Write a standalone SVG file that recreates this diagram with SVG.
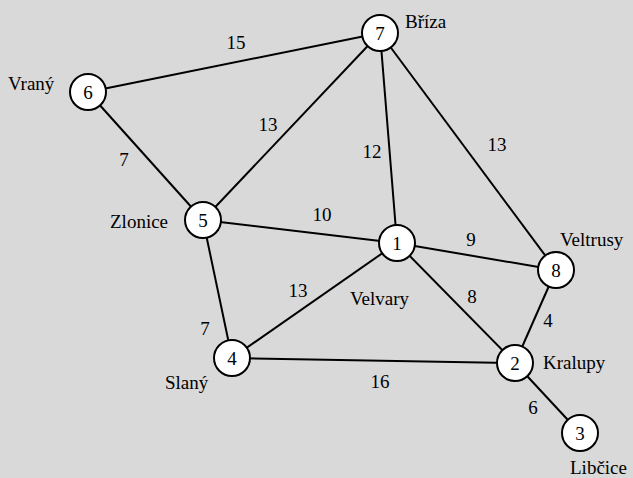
<svg xmlns="http://www.w3.org/2000/svg" width="633" height="478" viewBox="0 0 633 478">
<style>
.e{stroke:#000;stroke-width:2;fill:none}
.n circle{fill:#fff;stroke:#000;stroke-width:2}
text{fill:#000;font-size:19px;font-family:'Liberation Serif','Times New Roman',serif}
.n text,.w{text-anchor:middle}
</style>
<rect width="633" height="478" fill="#d9d9d9"/>
<g id="edges">
<line class="e" x1="380" y1="33" x2="88" y2="92"/>
<line class="e" x1="380" y1="33" x2="203" y2="220"/>
<line class="e" x1="380" y1="33" x2="397" y2="243"/>
<line class="e" x1="380" y1="33" x2="556" y2="270"/>
<line class="e" x1="88" y1="92" x2="203" y2="220"/>
<line class="e" x1="203" y1="220" x2="397" y2="243"/>
<line class="e" x1="203" y1="220" x2="232" y2="358"/>
<line class="e" x1="397" y1="243" x2="556" y2="270"/>
<line class="e" x1="397" y1="243" x2="232" y2="358"/>
<line class="e" x1="397" y1="243" x2="515" y2="363"/>
<line class="e" x1="232" y1="358" x2="515" y2="363"/>
<line class="e" x1="556" y1="270" x2="515" y2="363"/>
<line class="e" x1="515" y1="363" x2="580" y2="433"/>
</g>
<g id="weights">
<text class="w" x="236" y="49">15</text>
<text class="w" x="268" y="131">13</text>
<text class="w" x="372" y="158">12</text>
<text class="w" x="497" y="151">13</text>
<text class="w" x="124" y="166">7</text>
<text class="w" x="322" y="221">10</text>
<text class="w" x="471" y="246">9</text>
<text class="w" x="472" y="303">8</text>
<text class="w" x="205" y="335">7</text>
<text class="w" x="298" y="297">13</text>
<text class="w" x="548" y="327">4</text>
<text class="w" x="380" y="388">16</text>
<text class="w" x="533" y="414">6</text>
</g>
<g id="node1" class="n"><circle cx="397" cy="243" r="18"/><text x="397" y="250">1</text></g>
<g id="node2" class="n"><circle cx="515" cy="363" r="18"/><text x="515" y="370">2</text></g>
<g id="node3" class="n"><circle cx="580" cy="433" r="18"/><text x="580" y="440">3</text></g>
<g id="node4" class="n"><circle cx="232" cy="358" r="18"/><text x="232" y="365">4</text></g>
<g id="node5" class="n"><circle cx="203" cy="220" r="18"/><text x="203" y="227">5</text></g>
<g id="node6" class="n"><circle cx="88" cy="92" r="18"/><text x="88" y="99">6</text></g>
<g id="node7" class="n"><circle cx="380" cy="33" r="18"/><text x="380" y="40">7</text></g>
<g id="node8" class="n"><circle cx="556" cy="270" r="18"/><text x="556" y="277">8</text></g>
<g id="labels">
<text x="405" y="28">Bříza</text>
<text x="8" y="90">Vraný</text>
<text x="110" y="228">Zlonice</text>
<text x="350" y="305">Velvary</text>
<text x="560" y="246">Veltrusy</text>
<text x="543" y="369">Kralupy</text>
<text x="570" y="474">Libčice</text>
<text x="165" y="389">Slaný</text>
</g>
</svg>
